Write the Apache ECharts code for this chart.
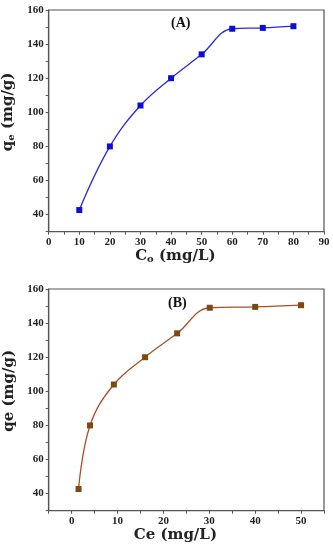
<!DOCTYPE html>
<html><head><meta charset="utf-8">
<script src="https://cdn.jsdelivr.net/npm/echarts@6/dist/echarts.min.js"></script>
<style>html,body{margin:0;padding:0;background:#fff}#c{width:333px;height:550px}</style>
</head><body><div id="c"></div>
<script>
var coA = [10, 20, 30, 40, 50, 60, 70, 80];
var qeA = [42.7, 80, 104, 120, 134, 149, 149.5, 150.5];
var ceB = [1.5, 4, 9.2, 16, 23, 30.1, 40, 50];
var qeB = [42.7, 80, 104, 120, 134, 149, 149.5, 150.5];
var yTicks = [40, 60, 80, 100, 120, 140, 160];
var xTicksB = [0, 10, 20, 30, 40, 50];

var FONT = 'Liberation Serif';
var TFONT = 'DejaVu Serif';
var axisCol = '#555';
var labelStyle = {fontFamily: FONT, fontWeight: 'bold', fontSize: 11, color: '#222', margin: 5};

function yAxisCfg(gi, nameRich, name) {
  return {
    gridIndex: gi, type: 'value', min: 30, max: 160, interval: 10,
    name: name, nameLocation: 'middle', nameGap: 29,
    nameTextStyle: {fontFamily: TFONT, fontWeight: 'bold', fontSize: 15, color: '#222', rich: nameRich, padding: [0, 0, 0, 18]},
    axisLine: {show: true, onZero: false, lineStyle: {color: axisCol, width: 1.2}},
    axisTick: {show: true, inside: false, length: 3, lineStyle: {color: axisCol}},
    axisLabel: Object.assign({}, labelStyle, {formatter: function (v) { return yTicks.indexOf(v) >= 0 ? String(v) : ''; }}),
    splitLine: {show: false}
  };
}
var richSub = {
  b: {fontFamily: TFONT, fontWeight: 'bold', fontSize: 15, color: '#222'},
  s: {fontFamily: TFONT, fontWeight: 'bold', fontSize: 10, color: '#222', padding: [7, 0, 0, 0]}
};

var chart = echarts.init(document.getElementById('c'));
chart.setOption({
  animation: false,
  grid: [
    {left: 48.7, top: 10, width: 275.3, height: 221.7, show: true, borderColor: axisCol, borderWidth: 1.2, containLabel: false, outerBoundsMode: 'none'},
    {left: 48.7, top: 289, width: 275.3, height: 221.7, show: true, borderColor: axisCol, borderWidth: 1.2, containLabel: false, outerBoundsMode: 'none'}
  ],
  xAxis: [
    {gridIndex: 0, type: 'value', min: 0, max: 90, interval: 10,
     name: '{b|C}{s|o}{b| (mg/L)}', nameLocation: 'middle', nameGap: 15,
     nameTextStyle: {fontFamily: TFONT, fontWeight: 'bold', fontSize: 15, color: '#222', rich: richSub, padding: [0, 22, 0, 0]},
     axisLine: {show: true, onZero: false, lineStyle: {color: axisCol, width: 1.2}},
     axisTick: {show: true, length: 3, lineStyle: {color: axisCol}},
     minorTick: {show: true, splitNumber: 2, length: 3, lineStyle: {color: axisCol}},
     axisLabel: labelStyle, splitLine: {show: false}},
    {gridIndex: 1, type: 'value', min: -5, max: 55, interval: 5,
     name: 'Ce (mg/L)', nameLocation: 'middle', nameGap: 16,
     nameTextStyle: {fontFamily: TFONT, fontWeight: 'bold', fontSize: 15, color: '#222', padding: [0, 22, 0, 0]},
     axisLine: {show: true, onZero: false, lineStyle: {color: axisCol, width: 1.2}},
     axisTick: {show: true, length: 3, lineStyle: {color: axisCol}},
     axisLabel: Object.assign({}, labelStyle, {formatter: function (v) { return xTicksB.indexOf(v) >= 0 ? String(v) : ''; }}),
     splitLine: {show: false}}
  ],
  yAxis: [
    yAxisCfg(0, richSub, '{b|q}{s|e}{b| (mg/g)}'),
    yAxisCfg(1, richSub, 'qe (mg/g)')
  ],
  graphic: [
    {type: 'text', left: 171, top: 16, style: {text: '(A)', font: 'bold 14px "Liberation Serif"', fill: '#111'}},
    {type: 'text', left: 168, top: 296, style: {text: '(B)', font: 'bold 14px "Liberation Serif"', fill: '#111'}}
  ],
  series: [
    {type: 'line', xAxisIndex: 0, yAxisIndex: 0, data: coA.map(function (x, i) { return [x, qeA[i]]; }),
     smooth: 0.4, symbol: 'rect', symbolSize: 6,
     lineStyle: {color: '#2b2bdc', width: 1.3}, itemStyle: {color: '#0d0dd6'}},
    {type: 'line', xAxisIndex: 1, yAxisIndex: 1, data: ceB.map(function (x, i) { return [x, qeB[i]]; }),
     smooth: 0.4, symbol: 'rect', symbolSize: 6,
     lineStyle: {color: '#a8502a', width: 1.3}, itemStyle: {color: '#7a4a10'}}
  ]
});
</script></body></html>
